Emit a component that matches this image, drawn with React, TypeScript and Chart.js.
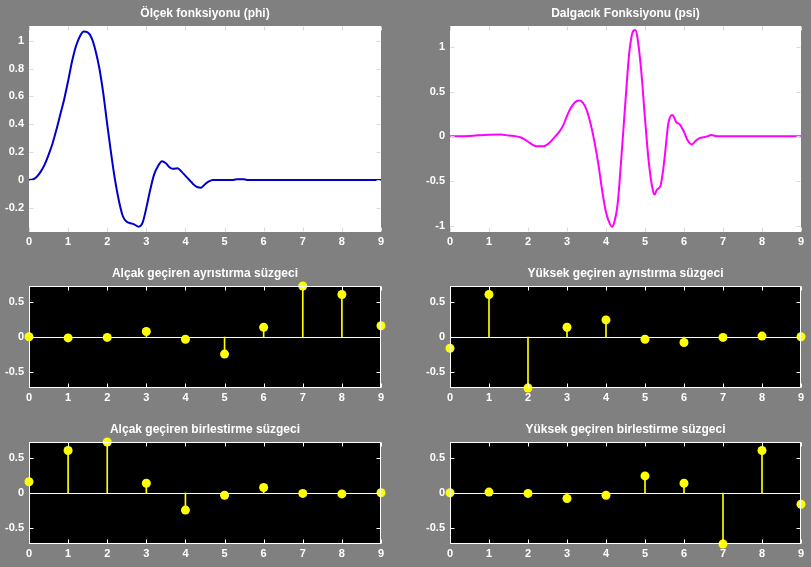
import React, { useEffect, useRef } from "react";
import { Chart, registerables } from "chart.js";
Chart.register(...registerables);

// ---- Data ----
const phiX = [0, 0.1, 0.2, 0.3, 0.4, 0.5, 0.6, 0.7, 0.8, 0.9, 1.0, 1.1, 1.2, 1.3, 1.4, 1.5, 1.6, 1.7, 1.8, 1.9, 2.0, 2.1, 2.2, 2.3, 2.4, 2.5, 2.6, 2.7, 2.8, 2.9, 3.0, 3.1, 3.2, 3.3, 3.4, 3.5, 3.6, 3.7, 3.8, 3.9, 4.0, 4.1, 4.2, 4.3, 4.4, 4.5, 4.6, 4.7, 4.8, 5.0, 5.2, 5.3, 5.5, 5.6, 6.0, 7.0, 8.0, 9.0];
const phiY = [0, 0.005, 0.024, 0.06, 0.11, 0.18, 0.26, 0.36, 0.47, 0.58, 0.71, 0.85, 0.96, 1.03, 1.065, 1.06, 1.02, 0.93, 0.80, 0.62, 0.40, 0.19, 0.0, -0.15, -0.26, -0.30, -0.31, -0.32, -0.335, -0.31, -0.2, -0.07, 0.04, 0.1, 0.135, 0.12, 0.09, 0.08, 0.085, 0.06, 0.03, 0.0, -0.03, -0.05, -0.055, -0.03, -0.01, 0.0, 0.0, 0.0, 0.0, 0.005, 0.005, 0.0, 0.0, 0.0, 0.0, 0.0];

const psiX = [0, 0.5, 1.0, 1.3, 1.5, 1.7, 1.8, 1.9, 2.0, 2.1, 2.2, 2.3, 2.4, 2.5, 2.6, 2.7, 2.8, 2.9, 3.0, 3.1, 3.2, 3.3, 3.4, 3.5, 3.6, 3.7, 3.8, 3.9, 4.0, 4.1, 4.15, 4.2, 4.3, 4.4, 4.5, 4.6, 4.7, 4.75, 4.8, 4.9, 5.0, 5.1, 5.2, 5.25, 5.3, 5.4, 5.5, 5.6, 5.7, 5.8, 5.9, 6.0, 6.1, 6.2, 6.3, 6.4, 6.5, 6.6, 6.7, 6.8, 6.9, 7.0, 8.0, 9.0];
const psiY = [0, 0.005, 0.019, 0.02, 0.01, 0, -0.01, -0.03, -0.06, -0.09, -0.11, -0.11, -0.11, -0.09, -0.05, 0.0, 0.05, 0.12, 0.23, 0.32, 0.38, 0.40, 0.38, 0.30, 0.15, -0.05, -0.3, -0.6, -0.85, -0.98, -1.01, -0.98, -0.75, -0.2, 0.4, 0.95, 1.18, 1.19, 1.12, 0.75, 0.2, -0.3, -0.6, -0.65, -0.6, -0.55, -0.25, 0.15, 0.24, 0.16, 0.13, 0.05, -0.05, -0.09, -0.05, -0.02, -0.01, 0.0, 0.015, 0.005, 0.0, 0.0, 0.0, 0.0];

const filterIndex = [0, 1, 2, 3, 4, 5, 6, 7, 8, 9];
const loD = [0.0033, -0.0126, -0.0062, 0.0776, -0.0322, -0.2423, 0.1384, 0.7243, 0.6038, 0.1601];
const hiD = [-0.1601, 0.6038, -0.7243, 0.1384, 0.2423, -0.0322, -0.0776, -0.0062, 0.0126, 0.0033];
const loR = [0.1601, 0.6038, 0.7243, 0.1384, -0.2423, -0.0322, 0.0776, -0.0062, -0.0126, 0.0033];
const hiR = [0.0033, 0.0126, -0.0062, -0.0776, -0.0322, 0.2423, 0.1384, -0.7243, 0.6038, -0.1601];

const xTicks = [0, 1, 2, 3, 4, 5, 6, 7, 8, 9];
const phiTicks = [-0.2, 0, 0.2, 0.4, 0.6, 0.8, 1];
const psiTicks = [-1, -0.5, 0, 0.5, 1];
const filterTicks = [-0.5, 0, 0.5];

const titles = [
  "Ölçek fonksiyonu (phi)",
  "Dalgacık Fonksiyonu (psi)",
  "Alçak geçiren ayrıstırma süzgeci",
  "Yüksek geçiren ayrıstırma süzgeci",
  "Alçak geçiren birlestirme süzgeci",
  "Yüksek geçiren birlestirme süzgeci",
];

const FONT = "'Liberation Sans', Arial, Helvetica, sans-serif";
const PAD_L = 40;
const PAD_T = 26;
const PAD_R = 12;
const PAD_B = 22;

type PanelProps = {
  left: number;
  top: number;
  w: number;
  h: number;
  title: string;
  yMin: number;
  yMax: number;
  yTicks: number[];
  dark: boolean;
  datasets: any[];
};

const fmt = (v: number) => String(Math.round(v * 1000) / 1000);

const panelPlugin = {
  id: "panelDeco",
  beforeDraw(chart: any) {
    const o = chart.options.plugins.panelDeco;
    const { ctx, chartArea: a } = chart;
    ctx.save();
    ctx.fillStyle = o.bg;
    ctx.fillRect(a.left, a.top, a.right - a.left, a.bottom - a.top);
    ctx.restore();
  },
  beforeDatasetsDraw(chart: any) {
    const o = chart.options.plugins.panelDeco;
    if (!o.baseline) return;
    const { ctx, chartArea: a, scales } = chart;
    const y0 = Math.round(scales.y.getPixelForValue(0)) + 0.5;
    ctx.save();
    ctx.strokeStyle = "#ffffff";
    ctx.lineWidth = 1;
    ctx.beginPath();
    ctx.moveTo(a.left, y0);
    ctx.lineTo(a.right, y0);
    ctx.stroke();
    ctx.restore();
  },
  afterDraw(chart: any) {
    const o = chart.options.plugins.panelDeco;
    const { ctx, chartArea: a, scales } = chart;
    ctx.save();
    ctx.strokeStyle = o.axis;
    ctx.lineWidth = 1;
    const L = Math.round(a.left) + 0.5;
    const R = Math.round(a.right) - 0.5;
    const T = Math.round(a.top) + 0.5;
    const B = Math.round(a.bottom) - 0.5;
    if (o.box) {
      ctx.strokeRect(L, T, R - L, B - T);
    }
    const tl = 4;
    ctx.beginPath();
    for (const t of scales.x.ticks) {
      const px = Math.round(scales.x.getPixelForValue(t.value)) + 0.5;
      ctx.moveTo(px, B);
      ctx.lineTo(px, B - tl);
      ctx.moveTo(px, T);
      ctx.lineTo(px, T + tl);
    }
    for (const t of scales.y.ticks) {
      const py = Math.round(scales.y.getPixelForValue(t.value)) + 0.5;
      ctx.moveTo(L, py);
      ctx.lineTo(L + tl, py);
      ctx.moveTo(R, py);
      ctx.lineTo(R - tl, py);
    }
    ctx.stroke();
    ctx.fillStyle = "#ffffff";
    ctx.font = `bold 12px ${FONT}`;
    ctx.textAlign = "center";
    ctx.textBaseline = "middle";
    ctx.fillText(o.title, (a.left + a.right) / 2, a.top - 12);
    ctx.restore();
  },
};

function Panel(p: PanelProps) {
  const ref = useRef<HTMLCanvasElement>(null);
  const W = p.w + PAD_L + PAD_R;
  const H = p.h + PAD_T + PAD_B;
  useEffect(() => {
    if (!ref.current) return;
    const chart = new Chart(ref.current, {
      type: "scatter",
      data: { datasets: p.datasets },
      plugins: [panelPlugin],
      options: {
        animation: false,
        responsive: false,
        events: [],
        layout: { padding: { left: 0, top: PAD_T, right: PAD_R, bottom: 0 } },
        plugins: {
          legend: { display: false },
          tooltip: { enabled: false },
          panelDeco: {
            bg: p.dark ? "#000000" : "#ffffff",
            axis: p.dark ? "#ffffff" : "#d8d8d8",
            box: p.dark,
            baseline: p.dark,
            title: p.title,
          },
        } as any,
        scales: {
          x: {
            type: "linear",
            min: 0,
            max: 9,
            offset: false,
            grid: { display: false, drawTicks: false },
            border: { display: false },
            afterBuildTicks: (s: any) => {
              s.ticks = xTicks.map((v) => ({ value: v }));
            },
            afterFit: (s: any) => {
              s.height = PAD_B;
            },
            ticks: {
              color: "#ffffff",
              padding: 3,
              maxRotation: 0,
              autoSkip: false,
              callback: (v: any) => fmt(Number(v)),
              font: { family: FONT, weight: "bold", size: 11 },
            },
          },
          y: {
            type: "linear",
            min: p.yMin,
            max: p.yMax,
            grid: { display: false, drawTicks: false },
            border: { display: false },
            afterBuildTicks: (s: any) => {
              s.ticks = p.yTicks.map((v) => ({ value: v }));
            },
            afterFit: (s: any) => {
              s.width = PAD_L;
            },
            ticks: {
              color: "#ffffff",
              padding: 5,
              autoSkip: false,
              callback: (v: any) => fmt(Number(v)),
              font: { family: FONT, weight: "bold", size: 11 },
            },
          },
        },
      } as any,
    });
    return () => chart.destroy();
  }, []);
  return (
    <canvas
      ref={ref}
      width={W}
      height={H}
      style={{ position: "absolute", left: p.left - PAD_L, top: p.top - PAD_T, width: W, height: H }}
    />
  );
}

function curve(xs: number[], ys: number[], color: string) {
  return [
    {
      type: "line",
      data: xs.map((x, i) => ({ x, y: ys[i] })),
      borderColor: color,
      borderWidth: 2,
      pointRadius: 0,
      fill: false,
      cubicInterpolationMode: "monotone",
    },
  ];
}

function stems(vals: number[]) {
  const pts = filterIndex.map((x, i) => ({ x, y: vals[i] }));
  return [
    {
      type: "scatter",
      data: pts,
      pointRadius: 4.5,
      pointBackgroundColor: "#ffff00",
      pointBorderWidth: 0,
      clip: false,
      order: 0,
    },
    {
      type: "bar",
      data: pts,
      backgroundColor: "#ffff00",
      borderWidth: 0,
      barThickness: 1,
      order: 2,
    },
  ];
}

const FLIM = 0.7243;

export default function App() {
  return (
    <div style={{ position: "fixed", left: 0, top: 0, width: 811, height: 567, background: "#808080", overflow: "hidden" }}>
      <Panel left={29} top={26} w={352} h={206} title={titles[0]} yMin={-0.373} yMax={1.105} yTicks={phiTicks} dark={false} datasets={curve(phiX, phiY, "#0000cc")} />
      <Panel left={450} top={26} w={351} h={206} title={titles[1]} yMin={-1.07} yMax={1.235} yTicks={psiTicks} dark={false} datasets={curve(psiX, psiY, "#ff00ff")} />
      <Panel left={29} top={286} w={352} h={102} title={titles[2]} yMin={-FLIM} yMax={FLIM} yTicks={filterTicks} dark={true} datasets={stems(loD)} />
      <Panel left={450} top={286} w={351} h={102} title={titles[3]} yMin={-FLIM} yMax={FLIM} yTicks={filterTicks} dark={true} datasets={stems(hiD)} />
      <Panel left={29} top={442} w={352} h={102} title={titles[4]} yMin={-FLIM} yMax={FLIM} yTicks={filterTicks} dark={true} datasets={stems(loR)} />
      <Panel left={450} top={442} w={351} h={102} title={titles[5]} yMin={-FLIM} yMax={FLIM} yTicks={filterTicks} dark={true} datasets={stems(hiR)} />
    </div>
  );
}
